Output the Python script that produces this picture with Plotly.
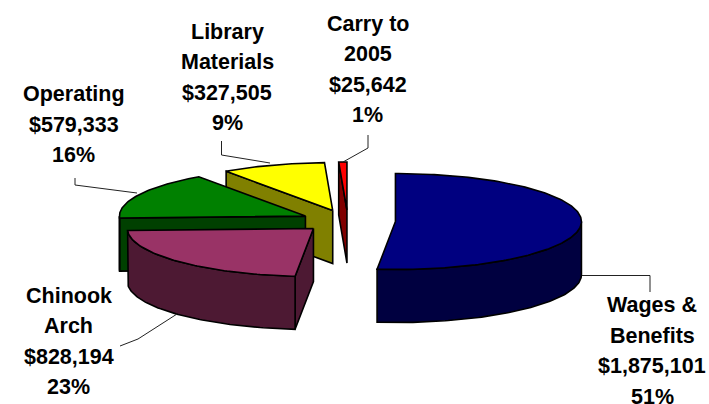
import numpy as np
import plotly.graph_objects as go

# Data
categories = ["Wages & Benefits", "Chinook Arch", "Operating", "Library Materials", "Carry to 2005"]
values = [1875101, 828194, 579333, 327505, 25642]
money_labels = ["$1,875,101", "$828,194", "$579,333", "$327,505", "$25,642"]
percent_labels = ["51%", "23%", "16%", "9%", "1%"]
name_lines = [["Wages &", "Benefits"], ["Chinook", "Arch"], ["Operating"], ["Library", "Materials"], ["Carry to", "2005"]]

# Styling
top_colors = ["#000080", "#993366", "#008000", "#FFFF00", "#FF0000"]
wall_colors = ["#000040", "#4D1933", "#004000", "#808000", "#800000"]
paint_order = [4, 3, 2, 1, 0]
label_x = [652, 68.5, 73.5, 227, 367.5]
label_y_last = [396.5, 387, 155, 123, 115]
line_step = 30.5
leaders = [
    ([582, 650, 650], [275.5, 275.5, 292]),
    ([177, 138, 120], [314, 339, 346]),
    ([75, 75, 137], [178, 185, 193]),
    ([221.5, 221.5, 270], [141, 155, 163]),
    ([368, 368, 343], [135, 148, 162]),
]

# Projection of the tilted, exploded pie (page pixels)
CX, CY, RX, RY, EX, EY, DEPTH = 348, 221, 186, 48, 47.5, 11, 53


def arc(c, start, end):
    n = max(3, int(abs(end - start)) + 1)
    t = np.radians(np.linspace(start, end, n))
    return c[0] + RX * np.sin(t), c[1] - RY * np.cos(t)


fractions = np.array(values) / sum(values)
ends = np.cumsum(fractions) * 360
starts = np.concatenate([[0], ends[:-1]])

fig = go.Figure()


def poly(x, y, color):
    fig.add_trace(go.Scatter(
        x=np.append(x, x[0]), y=np.append(y, y[0]), mode="lines", fill="toself",
        fillcolor=color, line=dict(color="black", width=1.6), hoverinfo="skip", showlegend=False,
    ))


for i in paint_order:
    s, e = starts[i], ends[i]
    mid = np.radians((s + e) / 2)
    c = (CX + EX * np.sin(mid), CY - EY * np.cos(mid))
    # cut faces that look toward the viewer
    visible = []
    if np.sin(np.radians(s)) < 0:
        visible.append(s)
    if np.sin(np.radians(e)) > 1e-9:
        visible.append(e)
    for ang in visible:
        px, py = arc(c, ang, ang)
        poly(np.array([c[0], px[0], px[0], c[0]]),
             np.array([c[1], py[0], py[0] + DEPTH, c[1] + DEPTH]), wall_colors[i])
    # outer wall, only where it faces the viewer
    a, b = max(s, 90), min(e, 270)
    if b > a:
        ax, ay = arc(c, a, b)
        poly(np.concatenate([ax, ax[::-1]]), np.concatenate([ay, ay[::-1] + DEPTH]), wall_colors[i])
    # top face
    ax, ay = arc(c, s, e)
    poly(np.concatenate([[c[0]], ax]), np.concatenate([[c[1]], ay]), top_colors[i])

for lx, ly in leaders:
    fig.add_trace(go.Scatter(x=lx, y=ly, mode="lines", line=dict(color="#222222", width=1),
                             hoverinfo="skip", showlegend=False))

annotations = []
for i in range(len(categories)):
    lines = name_lines[i] + [money_labels[i], percent_labels[i]]
    for k, text in enumerate(lines):
        annotations.append(dict(
            x=label_x[i], y=label_y_last[i] - line_step * (len(lines) - 1 - k), text=text,
            xref="x", yref="y", showarrow=False, xanchor="center", yanchor="middle", borderpad=0,
            font=dict(family="Liberation Sans", size=21.5, color="black", weight="bold"),
        ))

fig.update_layout(
    width=709, height=404, margin=dict(l=0, r=0, t=0, b=0),
    paper_bgcolor="white", plot_bgcolor="white", annotations=annotations,
    xaxis=dict(range=[0, 709], visible=False, fixedrange=True),
    yaxis=dict(range=[404, 0], visible=False, fixedrange=True),
)
fig.write_html("out.html", config={"displayModeBar": False},
               post_script="document.body.style.margin='0';document.documentElement.style.overflow='hidden';")
